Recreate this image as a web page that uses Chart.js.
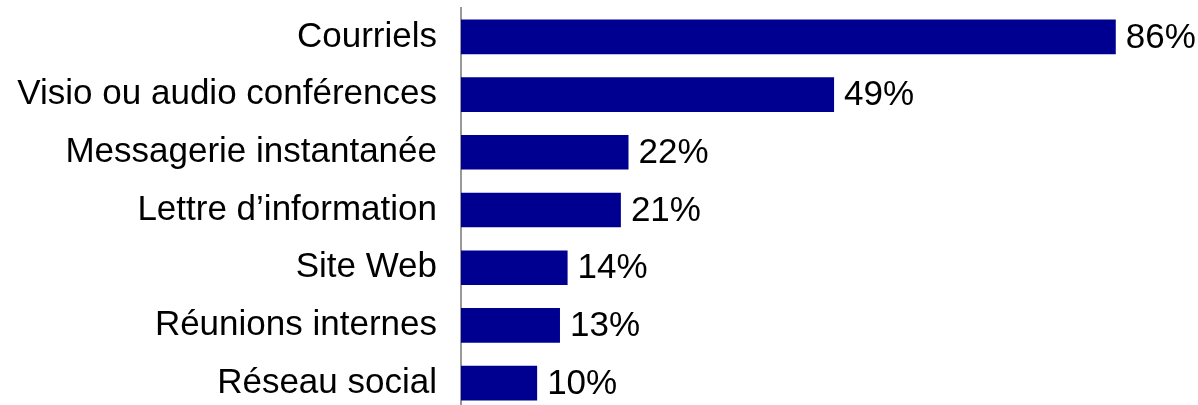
<!DOCTYPE html>
<html>
<head>
<meta charset="utf-8">
<script src="https://cdn.jsdelivr.net/npm/chart.js@4"></script>
<style>
  html, body { margin: 0; padding: 0; background: #fff; overflow: hidden; }
  canvas { display: block; }
</style>
</head>
<body>
<canvas id="chart" width="1198" height="412"></canvas>
<script>
const categories = ['Courriels', 'Visio ou audio conférences', 'Messagerie instantanée',
  'Lettre d’information', 'Site Web', 'Réunions internes', 'Réseau social'];
const values = [86, 49, 22, 21, 14, 13, 10];

// value labels at the end of each bar
const valueLabels = {
  id: 'valueLabels',
  afterDatasetsDraw(chart) {
    const ctx = chart.ctx;
    const meta = chart.getDatasetMeta(0);
    ctx.save();
    ctx.font = '35px "Liberation Sans", Arial, sans-serif';
    ctx.fillStyle = '#000';
    ctx.textAlign = 'left';
    ctx.textBaseline = 'middle';
    meta.data.forEach(function (bar, i) {
      ctx.fillText(values[i] + '%', bar.x + 10, bar.y + 1);
    });
    ctx.restore();
  }
};

new Chart(document.getElementById('chart'), {
  type: 'bar',
  data: {
    labels: categories,
    datasets: [{
      data: values,
      backgroundColor: '#000090',
      categoryPercentage: 0.6,
      barPercentage: 1
    }]
  },
  options: {
    indexAxis: 'y',
    responsive: false,
    animation: false,
    layout: { padding: { top: 8, right: 0, bottom: 0, left: 0 } },
    plugins: { legend: { display: false }, tooltip: { enabled: false } },
    scales: {
      x: {
        min: 0,
        max: 96.8,
        display: false
      },
      y: {
        afterFit(scale) {
          scale.width = 461;
          scale.paddingTop = 0;
          scale.paddingBottom = 0;
        },
        grid: { display: false, drawTicks: false },
        border: { display: true, color: '#999', width: 2 },
        ticks: {
          padding: 24,
          color: '#000',
          font: { family: '"Liberation Sans", Arial, sans-serif', size: 35 }
        }
      }
    }
  },
  plugins: [valueLabels]
});
</script>
</body>
</html>
